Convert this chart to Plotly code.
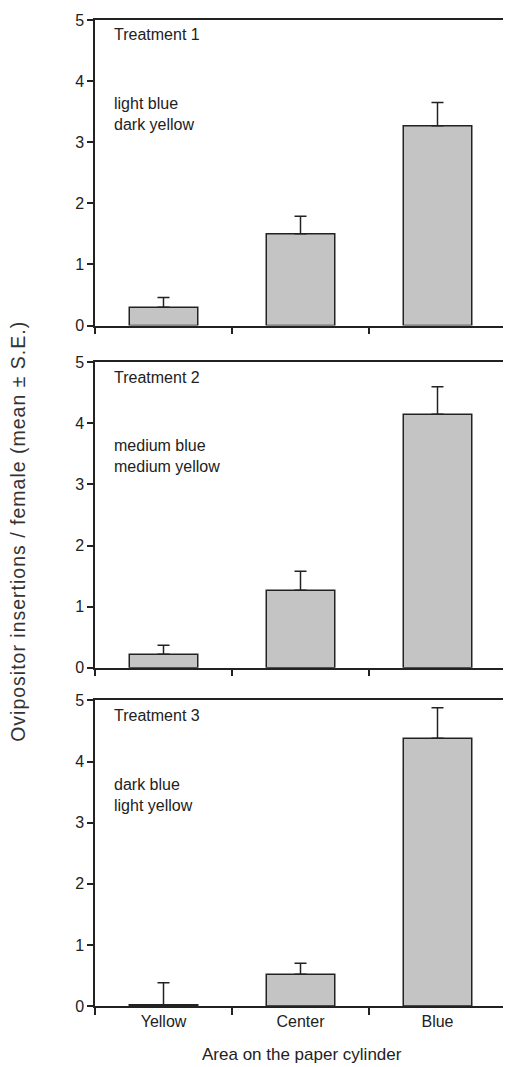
import plotly.graph_objects as go

categories = ["Yellow", "Center", "Blue"]
treatments = ["Treatment 1", "Treatment 2", "Treatment 3"]
conditions = [["light blue", "dark yellow"], ["medium blue", "medium yellow"], ["dark blue", "light yellow"]]
means_t1 = [0.30, 1.50, 3.27]
means_t2 = [0.22, 1.27, 4.15]
means_t3 = [0.02, 0.52, 4.38]
se_t1 = [0.16, 0.29, 0.38]
se_t2 = [0.15, 0.31, 0.45]
se_t3 = [0.36, 0.18, 0.50]
y_ticks = [0, 1, 2, 3, 4, 5]
x_title = "Area on the paper cylinder"
y_title = "Ovipositor insertions / female (mean ± S.E.)"

means = [means_t1, means_t2, means_t3]
ses = [se_t1, se_t2, se_t3]

FONT = "Liberation Sans, Arial, Helvetica, sans-serif"
W, H = 511, 1067
OFF = 8  # default page body margin shifts the figure
S_L, S_R, S_T, S_B = 95, 506, 12, 1006
L, R, T, B = S_L - OFF, S_R - OFF, S_T - OFF, S_B - OFF
ML, MR, MT, MB = L, W - R, T, H - B
ph = B - T
pw = R - L
panels_screen = [(12, 320), (357, 665), (698, 1006)]
panels = [(t - OFF, b - OFF) for (t, b) in panels_screen]
domains = [[(B - b) / ph, (B - t) / ph] for (t, b) in panels]


def px(xs):
    return (xs - OFF - L) / pw


def py(ys):
    return (B - (ys - OFF)) / ph


fig = go.Figure()
for i in range(3):
    ax = "" if i == 0 else str(i + 1)
    top_s = panels_screen[i][0]
    fig.add_trace(go.Bar(
        x=categories, y=means[i], width=0.5,
        marker=dict(color="#c4c4c4", line=dict(color="#222222", width=1.5)),
        error_y=dict(type="data", array=ses[i], arrayminus=[0, 0, 0], symmetric=False,
                     color="#222222", thickness=1.5, width=6),
        xaxis="x" + ax, yaxis="y" + ax, showlegend=False,
    ))
    xa = dict(domain=[0, 1], type="category", range=[-0.5, 2.5], tickson="boundaries",
              ticks="outside", ticklen=7, tickcolor="#222222", tickwidth=1.5,
              showline=True, linecolor="#222222", linewidth=1.5, mirror=True,
              showgrid=False, zeroline=False, anchor="y" + ax,
              showticklabels=(i == 2), tickfont=dict(family=FONT, size=16, color="#222222"))
    if i > 0:
        xa["matches"] = "x"
    ya = dict(domain=domains[i], range=[0, 5], tickvals=y_ticks, ticks="outside", ticklen=6,
              tickcolor="#222222", tickwidth=1.5, showline=True, linecolor="#222222", linewidth=1.5,
              mirror=True, showgrid=False, zeroline=False, anchor="x" + ax,
              tickfont=dict(family=FONT, size=16, color="#222222"))
    fig.update_layout(**{"xaxis" + ax: xa, "yaxis" + ax: ya})
    fig.add_annotation(xref="paper", yref="paper", x=px(112), y=py(top_s + 15),
                       text=treatments[i], showarrow=False, xanchor="left", yanchor="middle",
                       font=dict(family=FONT, size=16, color="#222222"))
    fig.add_annotation(xref="paper", yref="paper", x=px(112), y=py(top_s + 95),
                       text=conditions[i][0] + "<br>" + conditions[i][1], showarrow=False,
                       xanchor="left", yanchor="middle", align="left",
                       font=dict(family=FONT, size=16, color="#222222"))

fig.add_annotation(xref="paper", yref="paper", x=px(302), y=py(1055),
                   text=x_title, showarrow=False, yanchor="middle",
                   font=dict(family=FONT, size=17, color="#222222"))
fig.add_annotation(xref="paper", yref="paper", x=px(18), y=py(528),
                   text='<span style="letter-spacing:1px">' + y_title + "</span>",
                   showarrow=False, textangle=-90, xanchor="center", yanchor="middle",
                   font=dict(family=FONT, size=19.5, color="#333333"))

fig.update_layout(width=W, height=H, margin=dict(l=ML, r=MR, t=MT, b=MB),
                  paper_bgcolor="white", plot_bgcolor="white", bargap=0.5)
fig.write_html("out.html")
